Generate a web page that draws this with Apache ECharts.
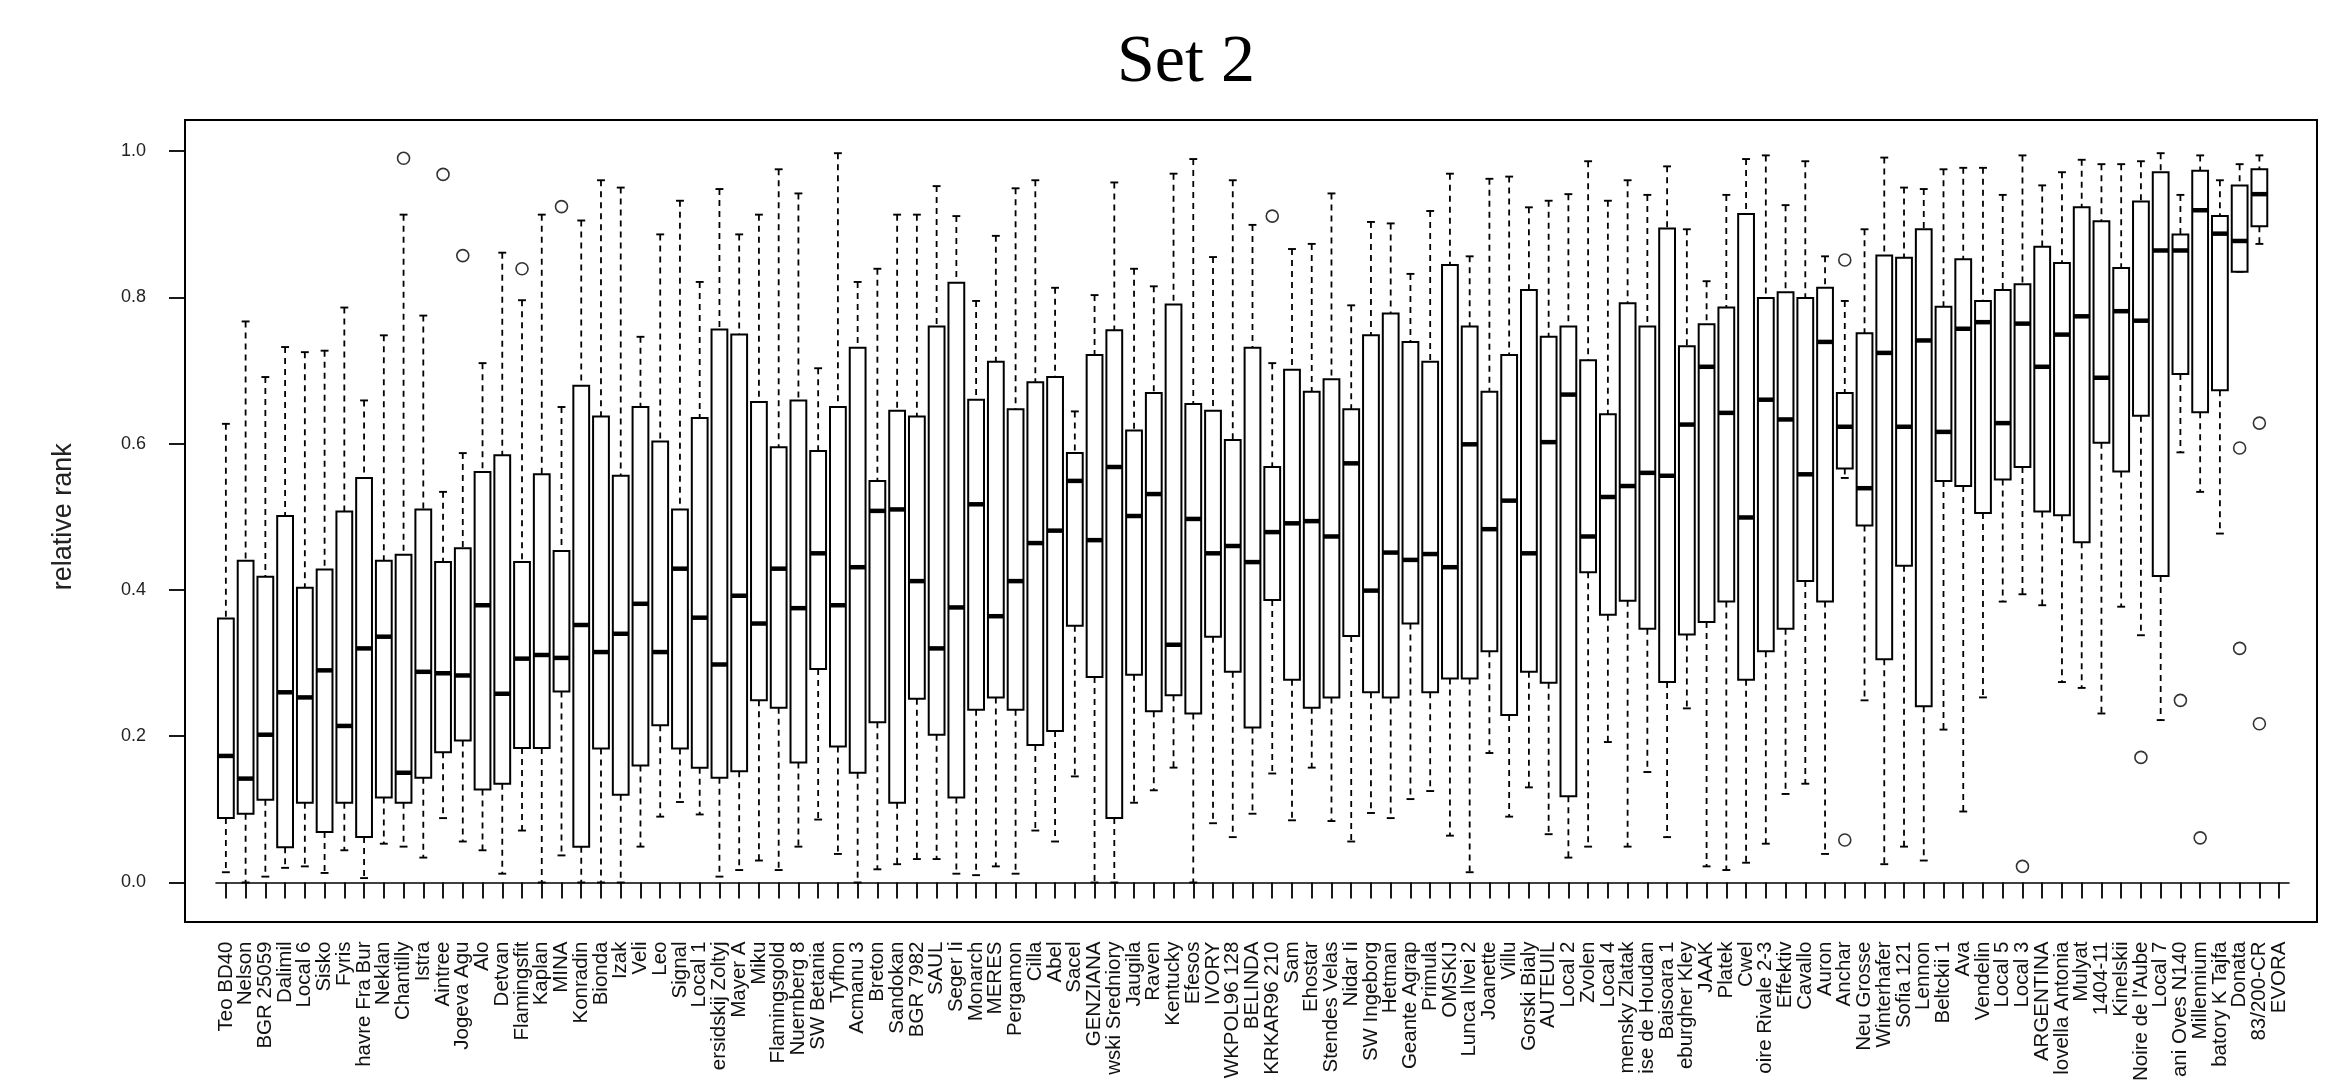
<!DOCTYPE html>
<html>
<head>
<meta charset="utf-8">
<script src="https://cdn.jsdelivr.net/npm/echarts@6/dist/echarts.min.js"></script>
<style>
html,body{margin:0;padding:0;background:#fff;}
#chart{width:2340px;height:1084px;}
</style>
</head>
<body>
<div id="chart"></div>
<script>
const categories = [
"Teo BD40","Nelson","BGR 25059","Dalimil","Local 6","Sisko","Fyris","havre Fra Bur","Neklan","Chantilly",
"Istra","Aintree","Jogeva Agu","Alo","Detvan","Flamingsfit","Kaplan","MINA","Konradin","Bionda",
"Izak","Veli","Leo","Signal","Local 1","ersidskij Zoltyj","Mayer A","Miku","Flamingsgold","Nuernberg 8",
"SW Betania","Tyfhon","Acmanu 3","Breton","Sandokan","BGR 7982","SAUL","Seger Ii","Monarch","MERES",
"Pergamon","Cilla","Abel","Sacel","GENZIANA","wski Sredniory","Jaugila","Raven","Kentucky","Efesos",
"IVORY","WKPOL96 128","BELINDA","KRKAR96 210","Sam","Ehostar","Stendes Velas","Nidar Ii","SW Ingeborg","Hetman",
"Geante Agrap","Primula","OMSKIJ","Lunca Ilvei 2","Joanette","Villu","Gorski Bialy","AUTEUIL","Local 2","Zvolen",
"Local 4","mensky Zlatak","ise de Houdan","Baisoara 1","eburgher Kley","JAAK","Platek","Cwel","oire Rivale 2-3","Effektiv",
"Cavallo","Auron","Anchar","Neu Grosse","Winterhafer","Sofia 121","Lennon","Beltckii 1","Ava","Vendelin",
"Local 5","Local 3","ARGENTINA","lovella Antonia","Mulyat","1404-11","Kinelskii","Noire de l'Aube","Local 7","ani Oves N140",
"Millennium","batory K Tajfa","Donata","83/200-CR","EVORA"
];

const whiskerHigh = [
0.627,0.767,0.691,0.732,0.725,0.727,0.786,0.659,0.748,0.913,
0.775,0.534,0.587,0.710,0.861,0.796,0.913,0.650,0.905,0.960,
0.950,0.746,0.886,0.932,0.821,0.948,0.886,0.913,0.975,0.942,
0.703,0.997,0.821,0.839,0.913,0.913,0.952,0.911,0.795,0.884,
0.949,0.960,0.813,0.644,0.803,0.957,0.839,0.815,0.969,0.989,
0.855,0.960,0.899,0.710,0.866,0.873,0.942,0.789,0.903,0.901,
0.832,0.918,0.969,0.856,0.962,0.965,0.923,0.932,0.941,0.986,
0.932,0.960,0.940,0.979,0.893,0.822,0.940,0.989,0.994,0.926,
0.986,0.856,0.795,0.893,0.991,0.950,0.948,0.975,0.977,0.977,
0.940,0.994,0.953,0.971,0.988,0.982,0.982,0.986,0.997,0.940,
0.994,0.960,0.982,0.994,null
];
const q3 = [
0.361,0.440,0.418,0.501,0.403,0.428,0.507,0.553,0.440,0.448,
0.510,0.438,0.457,0.561,0.584,0.438,0.558,0.453,0.679,0.637,
0.556,0.650,0.603,0.510,0.635,0.756,0.749,0.657,0.595,0.659,
0.590,0.650,0.731,0.549,0.645,0.637,0.760,0.820,0.660,0.712,
0.647,0.684,0.691,0.587,0.721,0.755,0.618,0.669,0.790,0.654,
0.645,0.605,0.731,0.568,0.701,0.671,0.688,0.647,0.748,0.778,
0.739,0.712,0.844,0.760,0.671,0.721,0.810,0.746,0.760,0.714,
0.640,0.792,0.760,0.894,0.733,0.763,0.786,0.914,0.799,0.807,
0.799,0.813,0.669,0.751,0.857,0.854,0.893,0.787,0.852,0.795,
0.810,0.818,0.869,0.847,0.923,0.904,0.840,0.931,0.971,0.886,
0.973,0.911,0.953,0.975,null
];
const median = [
0.173,0.142,0.202,0.260,0.253,0.290,0.214,0.320,0.336,0.150,
0.288,0.286,0.283,0.379,0.258,0.306,0.311,0.307,0.352,0.315,
0.340,0.381,0.315,0.429,0.362,0.298,0.392,0.354,0.429,0.375,
0.450,0.379,0.431,0.508,0.510,0.412,0.320,0.376,0.517,0.364,
0.412,0.464,0.481,0.549,0.468,0.568,0.501,0.531,0.325,0.497,
0.450,0.460,0.438,0.479,0.491,0.494,0.473,0.573,0.399,0.451,
0.441,0.449,0.431,0.599,0.483,0.522,0.450,0.602,0.667,0.473,
0.527,0.542,0.560,0.556,0.626,0.705,0.642,0.499,0.660,0.633,
0.558,0.739,0.623,0.539,0.724,0.623,0.741,0.616,0.757,0.766,
0.628,0.764,0.705,0.749,0.774,0.690,0.781,0.768,0.864,0.864,
0.919,0.887,0.877,0.941,null
];
const q1 = [
0.088,0.094,0.113,0.048,0.109,0.069,0.109,0.062,0.116,0.109,
0.143,0.178,0.194,0.127,0.135,0.184,0.184,0.261,0.049,0.183,
0.120,0.160,0.215,0.183,0.157,0.143,0.152,0.249,0.239,0.164,
0.292,0.186,0.150,0.219,0.109,0.251,0.202,0.116,0.236,0.253,
0.236,0.188,0.207,0.351,0.281,0.088,0.284,0.234,0.256,0.231,
0.336,0.288,0.212,0.386,0.277,0.239,0.253,0.337,0.260,0.253,
0.354,0.260,0.279,0.279,0.316,0.229,0.288,0.273,0.118,0.424,
0.366,0.385,0.347,0.274,0.339,0.356,0.384,0.277,0.316,0.347,
0.412,0.384,0.566,0.488,0.305,0.433,0.241,0.549,0.542,0.505,
0.551,0.568,0.507,0.502,0.465,0.601,0.562,0.638,0.419,0.695,
0.643,0.673,0.835,0.897,null
];
const whiskerLow = [
0.014,0.000,0.008,0.020,0.022,0.013,0.044,0.006,0.053,0.049,
0.034,0.088,0.056,0.044,0.012,0.071,0.000,0.037,0.000,0.000,
0.000,0.049,0.090,0.110,0.093,0.008,0.017,0.030,0.017,0.049,
0.086,0.039,0.000,0.018,0.025,0.032,0.032,0.012,0.010,0.022,
0.012,0.071,0.056,0.145,0.000,0.000,0.109,0.126,0.157,0.000,
0.081,0.062,0.094,0.149,0.085,0.157,0.084,0.056,0.095,0.088,
0.114,0.125,0.064,0.014,0.177,0.090,0.130,0.066,0.034,0.049,
0.192,0.049,0.151,0.062,0.238,0.022,0.017,0.027,0.053,0.121,
0.135,0.039,0.553,0.249,0.025,0.049,0.030,0.209,0.097,0.253,
0.384,0.394,0.379,0.274,0.266,0.231,0.377,0.338,0.222,0.588,
0.534,0.477,0.835,0.873,null
];
const outliers = [
["Chantilly",0.990],["Aintree",0.968],["Jogeva Agu",0.857],["Flamingsfit",0.839],
["MINA",0.924],["KRKAR96 210",0.911],["Anchar",0.851],["Anchar",0.058],
["Local 3",0.022],["Noire de l'Aube",0.171],["ani Oves N140",0.249],["Millennium",0.061],
["Donata",0.594],["Donata",0.320],["83/200-CR",0.628],["83/200-CR",0.217]
];
const yTicks = [0, 0.2, 0.4, 0.6, 0.8, 1.0];

const boxData = [];
categories.forEach(function (c, i) {
  if (whiskerHigh[i] == null) return;
  boxData.push([i, whiskerLow[i], q1[i], median[i], q3[i], whiskerHigh[i]]);
});

const chart = echarts.init(document.getElementById('chart'), null, {renderer: 'canvas'});

function renderBox(params, api) {
  const i = api.value(0);
  const lo = api.coord([i, api.value(1)]);
  const b1 = api.coord([i, api.value(2)]);
  const md = api.coord([i, api.value(3)]);
  const b3 = api.coord([i, api.value(4)]);
  const hi = api.coord([i, api.value(5)]);
  const cx = lo[0];
  const bw = api.size([1, 0])[0] * 0.8;
  const h = bw / 2, s = bw / 4;
  const dash = {stroke: '#000', lineWidth: 1.8, lineDash: [6, 5], fill: null};
  const solid = {stroke: '#000', lineWidth: 1.9, fill: null};
  return {
    type: 'group',
    children: [
      {type: 'line', shape: {x1: cx, y1: hi[1], x2: cx, y2: b3[1]}, style: dash},
      {type: 'line', shape: {x1: cx, y1: b1[1], x2: cx, y2: lo[1]}, style: dash},
      {type: 'line', shape: {x1: cx - s, y1: hi[1], x2: cx + s, y2: hi[1]}, style: solid},
      {type: 'line', shape: {x1: cx - s, y1: lo[1], x2: cx + s, y2: lo[1]}, style: solid},
      {type: 'rect', shape: {x: cx - h, y: b3[1], width: bw, height: b1[1] - b3[1]},
        style: {fill: '#fff', stroke: '#000', lineWidth: 2}},
      {type: 'line', shape: {x1: cx - h, y1: md[1], x2: cx + h, y2: md[1]},
        style: {stroke: '#000', lineWidth: 4.5}}
    ]
  };
}

const option = {
  backgroundColor: '#fff',
  animation: false,
  title: {
    text: 'Set 2',
    left: 1181,
    textAlign: 'center',
    top: 24,
    textStyle: {fontFamily: 'Liberation Serif', fontSize: 68, fontWeight: 'normal', color: '#000'}
  },
  grid: {left: 216, right: 51, top: 151, bottom: 191},
  xAxis: {
    type: 'category',
    data: categories,
    offset: 29,
    boundaryGap: true,
    axisLine: {show: true, lineStyle: {color: '#000', width: 1.6}},
    axisTick: {show: true, alignWithLabel: true, interval: 0, length: 16, lineStyle: {color: '#000', width: 1.8}},
    axisLabel: {interval: 0, rotate: 90, margin: 30, fontFamily: 'Liberation Sans', fontSize: 20.5, color: '#111'},
    splitLine: {show: false}
  },
  yAxis: {
    type: 'value',
    min: yTicks[0],
    max: yTicks[yTicks.length - 1],
    interval: 0.2,
    offset: 31,
    name: 'relative rank',
    nameLocation: 'middle',
    nameGap: 108,
    nameTextStyle: {fontFamily: 'Liberation Sans', fontSize: 27, color: '#222'},
    axisLine: {show: true, lineStyle: {color: '#000', width: 1.6}},
    axisTick: {show: true, length: 16, lineStyle: {color: '#000', width: 1.8}},
    axisLabel: {margin: 39, fontFamily: 'Liberation Sans', fontSize: 18, color: '#222',
      formatter: function (v) { return v.toFixed(1); }},
    splitLine: {show: false}
  },
  graphic: [{
    type: 'rect',
    shape: {x: 185, y: 120, width: 2132, height: 802},
    style: {fill: null, stroke: '#000', lineWidth: 2},
    silent: true,
    z: 10
  }],
  series: [
    {
      type: 'custom',
      renderItem: renderBox,
      data: boxData,
      encode: {x: 0, y: [1, 2, 3, 4, 5]},
      z: 2
    },
    {
      type: 'scatter',
      data: outliers,
      symbol: 'circle',
      symbolSize: 12,
      itemStyle: {color: 'rgba(0,0,0,0)', borderColor: '#000', borderWidth: 1.6},
      z: 3
    }
  ]
};
chart.setOption(option);
</script>
</body>
</html>
